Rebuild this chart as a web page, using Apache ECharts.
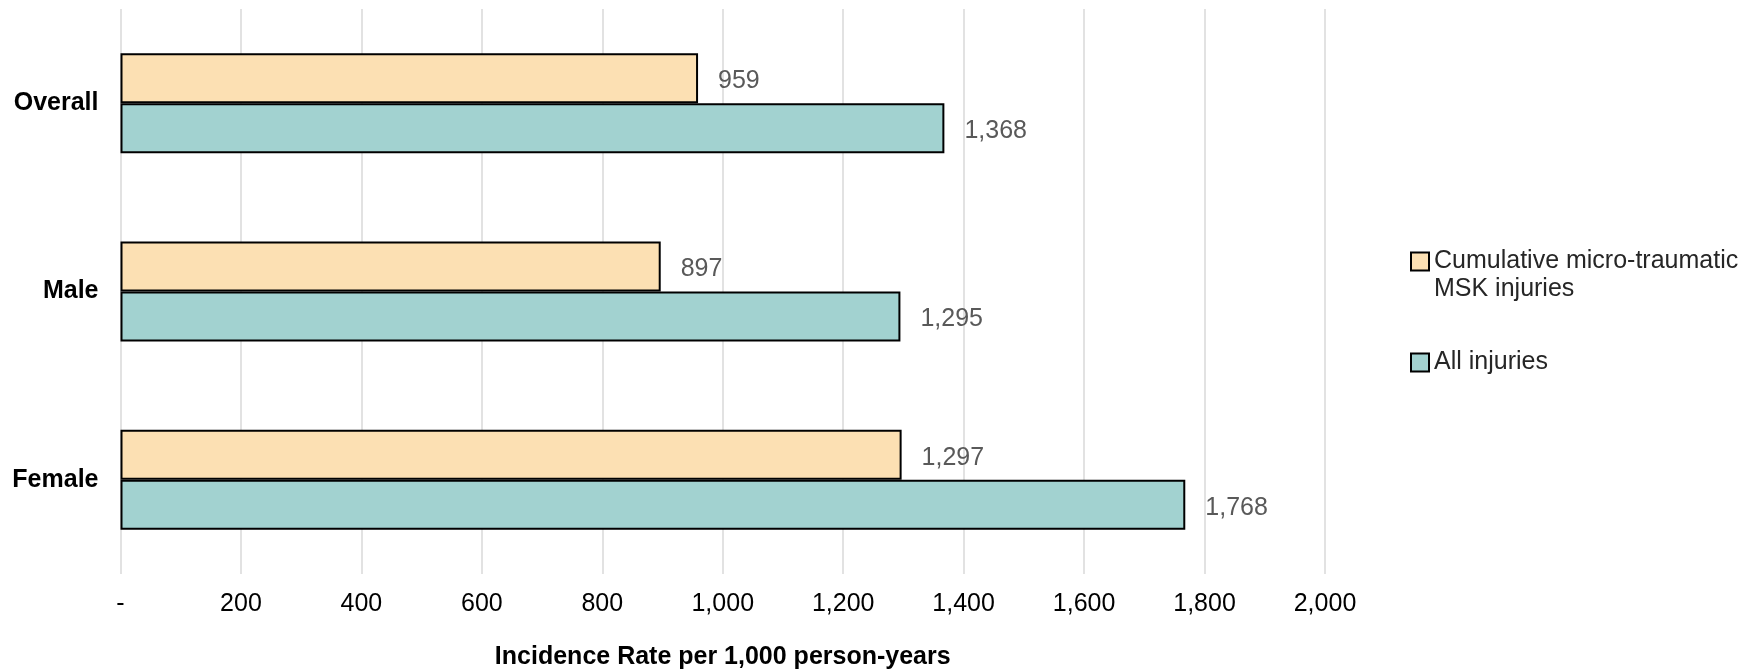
<!DOCTYPE html>
<html><head><meta charset="utf-8">
<script src="https://cdn.jsdelivr.net/npm/echarts@6/dist/echarts.min.js"></script>
<style>html,body{margin:0;padding:0;background:#fff}#c{width:1756px;height:672px}</style>
</head><body><div id="c"></div>
<script>
const categories = ['Overall', 'Male', 'Female'];
const cumulativeMSK = [959, 897, 1297];
const allInjuries = [1368, 1295, 1768];
const seriesNames = ['Cumulative micro-traumatic\nMSK injuries', 'All injuries'];
const xTicks = [0, 200, 400, 600, 800, 1000, 1200, 1400, 1600, 1800, 2000];

const fmt = v => v === 0 ? '-' : v.toLocaleString('en-US');
const chart = echarts.init(document.getElementById('c'));
const FONT = 'Liberation Sans';
const labelStyle = {
  show: true, position: 'right', distance: 20, offset: [0, 3], color: '#595959',
  fontFamily: FONT, fontSize: 25,
  formatter: p => fmt(p.value)
};
const legendText = { fontSize: 25, color: '#262626', fontFamily: FONT };
chart.setOption({
  animation: false,
  textStyle: { fontFamily: FONT },
  grid: { left: 120.5, right: 431, top: 9, bottom: 98, containLabel: false, outerBoundsMode: 'none' },
  legend: [
    {
      data: [seriesNames[0]],
      orient: 'vertical', left: 1410, top: 221, padding: 0,
      icon: 'rect', itemWidth: 18, itemHeight: 18,
      formatter: name => '{e| }\n' + name.split('\n').map(s => '{t|' + s + '}').join('\n'),
      textStyle: Object.assign({}, legendText, {
        rich: {
          e: { fontSize: 25, lineHeight: 28, fontFamily: FONT },
          t: { fontSize: 25, lineHeight: 28, color: '#262626', fontFamily: FONT }
        }
      })
    },
    {
      data: [seriesNames[1]],
      orient: 'vertical', left: 1410, top: 350, padding: 0,
      icon: 'rect', itemWidth: 18, itemHeight: 18,
      textStyle: legendText
    }
  ],
  xAxis: {
    type: 'value', min: xTicks[0], max: xTicks[xTicks.length - 1], interval: xTicks[1] - xTicks[0],
    axisLine: { show: false }, axisTick: { show: false },
    splitLine: { show: true, lineStyle: { color: '#d9d9d9', width: 1.5 } },
    axisLabel: { formatter: v => fmt(v), fontSize: 25, color: '#000', margin: 18, fontFamily: FONT },
    name: 'Incidence Rate per 1,000 person-years', nameLocation: 'middle', nameGap: 71,
    nameTextStyle: { fontSize: 25, fontWeight: 'bold', color: '#000', fontFamily: FONT }
  },
  yAxis: {
    type: 'category', data: categories, inverse: true,
    axisLine: { show: false }, axisTick: { show: false },
    axisLabel: { fontSize: 25, fontWeight: 'bold', color: '#000', margin: 22, padding: [4, 0, 0, 0], fontFamily: FONT }
  },
  series: [
    {
      name: seriesNames[0], type: 'bar', data: cumulativeMSK, barWidth: 50, barGap: '0%',
      itemStyle: { color: '#FCE0B3', borderColor: '#000', borderWidth: 2 },
      label: labelStyle
    },
    {
      name: seriesNames[1], type: 'bar', data: allInjuries, barWidth: 50, barGap: '0%',
      itemStyle: { color: '#A2D2D0', borderColor: '#000', borderWidth: 2 },
      label: labelStyle
    }
  ]
});
</script></body></html>
